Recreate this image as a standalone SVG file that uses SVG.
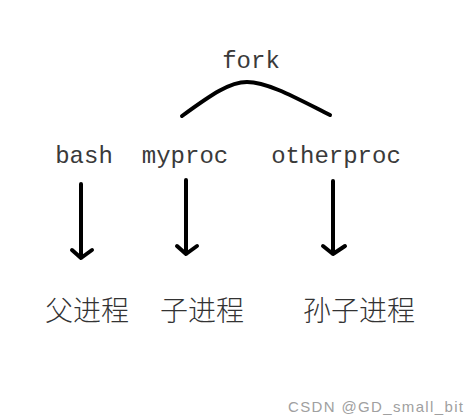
<svg xmlns="http://www.w3.org/2000/svg" width="470" height="415" viewBox="0 0 470 415">
<style>
.mono{font-family:"Liberation Mono","DejaVu Sans Mono",monospace;font-size:24px;fill:#3a3a3a;}
.cjk{font-family:"Noto Sans CJK SC","Noto Sans CJK JP",sans-serif;font-size:28px;fill:#333;font-weight:300;}
.wm{font-family:"Liberation Sans",Arial,sans-serif;font-size:15px;fill:#a0a0a0;}
.ln{fill:none;stroke:#000;stroke-width:4;stroke-linecap:round;stroke-linejoin:round;}
</style>
<rect width="470" height="415" fill="#fff"/>
<g id="fork"><text class="mono" x="251" y="68" text-anchor="middle">fork</text></g>
<g id="bash"><text class="mono" x="84" y="163" text-anchor="middle">bash</text></g>
<g id="myproc"><text class="mono" x="185" y="163" text-anchor="middle">myproc</text></g>
<g id="otherproc"><text class="mono" x="336" y="163" text-anchor="middle">otherproc</text></g>
<g id="parent"><text class="cjk" x="87" y="321" text-anchor="middle">父进程</text></g>
<g id="child"><text class="cjk" x="202" y="321" text-anchor="middle">子进程</text></g>
<g id="grandchild"><text class="cjk" x="359" y="321" text-anchor="middle">孙子进程</text></g>
<g id="connectors">
<path class="ln" d="M182,116 C212,94 230,82 247,82 C268,82 298,99 330,115"/>
<path class="ln" d="M81,184 V258 M72,250 L81,258 L92,250"/>
<path class="ln" d="M186,180 V254 M177,246 L186,254 L197,246"/>
<path class="ln" d="M333,181 V254 M323,246 L333,254 L345,246"/>
</g>
<text class="wm" x="288" y="412" textLength="175" lengthAdjust="spacing">CSDN @GD_small_bit</text>
</svg>
